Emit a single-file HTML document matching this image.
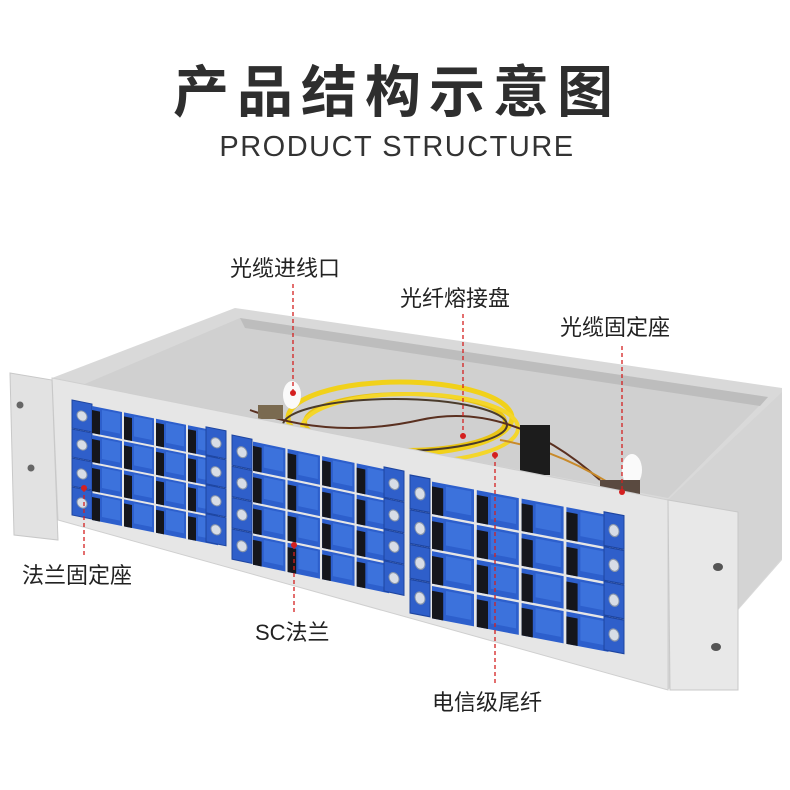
<!DOCTYPE html>
<html><head><meta charset="utf-8"><style>
html,body{margin:0;padding:0;background:#fff;}
body{width:790px;height:790px;overflow:hidden;}
svg{display:block}
</style></head><body>
<svg width="790" height="790" viewBox="0 0 790 790" xmlns="http://www.w3.org/2000/svg">
<defs>
<g id="f">
<rect x="0" y="0" width="30" height="27" fill="#2d5fcc"/>
<rect x="0" y="4" width="8" height="23" fill="#15161c"/>
<rect x="10" y="2" width="18" height="20" fill="#3c72dc"/>
</g>
<g id="s">
<rect x="0" y="0" width="20" height="28" fill="#2f5fca" stroke="#1e45a0" stroke-width="1"/>
<circle cx="10" cy="14" r="5" fill="#d8dde6" stroke="#8895aa"/>
</g>
</defs>
<text x="397" y="112" text-anchor="middle" font-family="Liberation Sans, Noto Sans CJK SC, sans-serif" font-size="56" font-weight="bold" fill="#2e2e2e" letter-spacing="8">产品结构示意图</text>
<text x="397" y="156" text-anchor="middle" font-family="Liberation Sans, sans-serif" font-size="29" fill="#333" letter-spacing="1.5">PRODUCT STRUCTURE</text>

<!-- box -->
<polygon points="52,378 235,308 782,388 782,560 668,690 58,520" fill="#d9d9d9"/>
<polygon points="80,386 240,318 768,397 668,498 80,386" fill="#d0d0d0"/>
<polygon points="240,318 768,397 760,406 245,328" fill="#bdbdbd"/>
<polygon points="668,500 782,392 782,558 668,690" fill="#d4d4d4"/>
<!-- cables -->
<g fill="none">
<ellipse cx="400" cy="418" rx="112" ry="36" stroke="#f1d11a" stroke-width="5"/>
<ellipse cx="405" cy="422" rx="100" ry="28" stroke="#e8c414" stroke-width="4"/>
<ellipse cx="410" cy="428" rx="108" ry="34" stroke="#f4d62a" stroke-width="4"/>
<ellipse cx="395" cy="425" rx="112" ry="26" stroke="#4a3b2b" stroke-width="2"/>
<path d="M250,410 Q330,440 420,420 T600,480" stroke="#5a3020" stroke-width="2"/>
<path d="M500,440 Q560,450 620,490" stroke="#c88a2a" stroke-width="2"/>
</g>
<rect x="520" y="425" width="30" height="50" fill="#1c1c1c"/>
<ellipse cx="292" cy="395" rx="9" ry="14" fill="#fafafa"/>
<ellipse cx="632" cy="470" rx="10" ry="16" fill="#fafafa"/>
<rect x="258" y="405" width="25" height="14" fill="#7a6a50"/>
<rect x="600" y="480" width="40" height="14" fill="#5a4a40"/>

<!-- front panel -->
<polygon points="52,378 668,500 668,690 58,520" fill="#e6e6e6" stroke="#cfcfcf"/>
<polygon points="10,373 52,380 58,540 14,535" fill="#e2e2e2" stroke="#c8c8c8"/>
<circle cx="20" cy="405" r="3.5" fill="#666"/><circle cx="31" cy="468" r="3.5" fill="#666"/>
<polygon points="668,500 738,512 738,690 670,690" fill="#e8e8e8" stroke="#c8c8c8"/>
<ellipse cx="718" cy="567" rx="5" ry="4" fill="#555"/><ellipse cx="716" cy="647" rx="5" ry="4" fill="#555"/>

<!-- group 1 -->
<g transform="matrix(1,0.2,0,1,72,400)">
<use href="#s" x="0" y="0"/><use href="#s" x="0" y="29"/><use href="#s" x="0" y="58"/><use href="#s" x="0" y="87"/>
<g transform="translate(20,0)">
<use href="#f" x="0" y="2"/><use href="#f" x="32" y="2"/><use href="#f" x="64" y="2"/><use href="#f" x="96" y="2"/>
<use href="#f" x="0" y="31"/><use href="#f" x="32" y="31"/><use href="#f" x="64" y="31"/><use href="#f" x="96" y="31"/>
<use href="#f" x="0" y="60"/><use href="#f" x="32" y="60"/><use href="#f" x="64" y="60"/><use href="#f" x="96" y="60"/>
<use href="#f" x="0" y="89"/><use href="#f" x="32" y="89"/><use href="#f" x="64" y="89"/><use href="#f" x="96" y="89"/>
</g>
<use href="#s" x="134" y="0"/><use href="#s" x="134" y="29"/><use href="#s" x="134" y="58"/><use href="#s" x="134" y="87"/>
</g>
<!-- group 2 -->
<g transform="matrix(1,0.21,0,1.08,232,435)">
<use href="#s" x="0" y="0"/><use href="#s" x="0" y="29"/><use href="#s" x="0" y="58"/><use href="#s" x="0" y="87"/>
<g transform="translate(21,0) scale(1.08,1)">
<use href="#f" x="0" y="2"/><use href="#f" x="32" y="2"/><use href="#f" x="64" y="2"/><use href="#f" x="96" y="2"/>
<use href="#f" x="0" y="31"/><use href="#f" x="32" y="31"/><use href="#f" x="64" y="31"/><use href="#f" x="96" y="31"/>
<use href="#f" x="0" y="60"/><use href="#f" x="32" y="60"/><use href="#f" x="64" y="60"/><use href="#f" x="96" y="60"/>
<use href="#f" x="0" y="89"/><use href="#f" x="32" y="89"/><use href="#f" x="64" y="89"/><use href="#f" x="96" y="89"/>
</g>
<use href="#s" x="152" y="0"/><use href="#s" x="152" y="29"/><use href="#s" x="152" y="58"/><use href="#s" x="152" y="87"/>
</g>
<!-- group 3 -->
<g transform="matrix(1,0.19,0,1.2,410,475)">
<use href="#s" x="0" y="0"/><use href="#s" x="0" y="29"/><use href="#s" x="0" y="58"/><use href="#s" x="0" y="87"/>
<g transform="translate(22,0) scale(1.4,1)">
<use href="#f" x="0" y="2"/><use href="#f" x="32" y="2"/><use href="#f" x="64" y="2"/><use href="#f" x="96" y="2"/>
<use href="#f" x="0" y="31"/><use href="#f" x="32" y="31"/><use href="#f" x="64" y="31"/><use href="#f" x="96" y="31"/>
<use href="#f" x="0" y="60"/><use href="#f" x="32" y="60"/><use href="#f" x="64" y="60"/><use href="#f" x="96" y="60"/>
<use href="#f" x="0" y="89"/><use href="#f" x="32" y="89"/><use href="#f" x="64" y="89"/><use href="#f" x="96" y="89"/>
</g>
<use href="#s" x="194" y="0"/><use href="#s" x="194" y="29"/><use href="#s" x="194" y="58"/><use href="#s" x="194" y="87"/>
</g>

<!-- leader lines -->
<g stroke="#d42020" stroke-width="1.3" stroke-dasharray="4,3" fill="none">
<line x1="293" y1="284" x2="293" y2="393"/>
<line x1="463" y1="314" x2="463" y2="436"/>
<line x1="622" y1="346" x2="622" y2="492"/>
<line x1="84" y1="488" x2="84" y2="556"/>
<line x1="294" y1="545" x2="294" y2="612"/>
<line x1="495" y1="455" x2="495" y2="684"/>
</g>
<g fill="#d42020">
<circle cx="293" cy="393" r="3"/><circle cx="463" cy="436" r="3"/><circle cx="622" cy="492" r="3"/>
<circle cx="84" cy="488" r="3"/><circle cx="294" cy="545" r="3"/><circle cx="495" cy="455" r="3"/>
</g>
<g font-family="Liberation Sans, Noto Sans CJK SC, sans-serif" font-size="22" fill="#222">
<text x="230" y="276">光缆进线口</text>
<text x="400" y="306">光纤熔接盘</text>
<text x="560" y="335">光缆固定座</text>
<text x="22" y="583">法兰固定座</text>
<text x="255" y="640">SC法兰</text>
<text x="432" y="710">电信级尾纤</text>
</g>
</svg>
</body></html>
